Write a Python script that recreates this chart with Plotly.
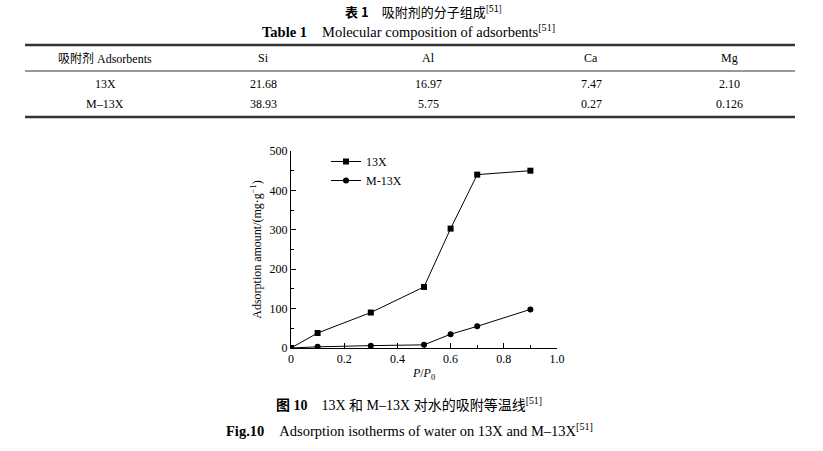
import plotly.graph_objects as go

# ---- data ----
p_p0 = [0, 0.1, 0.3, 0.5, 0.6, 0.7, 0.9]
ads_13x = [0, 38, 90, 155, 303, 440, 450]
ads_m13x = [0, 3, 6, 8, 35, 55, 98]

table_header = ["吸附剂 Adsorbents", "Si", "Al", "Ca", "Mg"]
table_rows = [
    ["13X", "21.68", "16.97", "7.47", "2.10"],
    ["M–13X", "38.93", "5.75", "0.27", "0.126"],
]

W, H = 823, 451
L, R, T, B = 291, 557, 151, 348  # plot area in pixels

def px(x):
    return (x - L) / (R - L)

def py(y):
    return (B - y) / (B - T)

SERIF = "Liberation Serif, Times New Roman, serif"
CJK = "Noto Sans CJK SC"

fig = go.Figure()
fig.add_trace(go.Scatter(
    x=p_p0, y=ads_13x, mode="lines+markers", name="13X",
    line=dict(color="black", width=1),
    marker=dict(symbol="square", size=6, color="black"),
))
fig.add_trace(go.Scatter(
    x=p_p0, y=ads_m13x, mode="lines+markers", name="M-13X",
    line=dict(color="black", width=1),
    marker=dict(symbol="circle", size=6, color="black"),
))

axis_common = dict(
    showline=True, linecolor="black", linewidth=1,
    ticks="inside", ticklen=5, tickcolor="black",
    showgrid=False, zeroline=False, mirror=False,
    tickfont=dict(family=SERIF, size=12, color="black"),
)
fig.update_xaxes(range=[0, 1.0],
                 tickvals=[0, 0.2, 0.4, 0.6, 0.8, 1.0],
                 ticktext=["0", "0.2", "0.4", "0.6", "0.8", "1.0"],
                 minor=dict(ticks="inside", ticklen=3, dtick=0.1, tickcolor="black"),
                 title=dict(text="<i>P</i>/<i>P</i><sub>0</sub>", font=dict(family=SERIF, size=12, color="black"), standoff=3),
                 **axis_common)
fig.update_yaxes(range=[0, 500], dtick=100,
                 minor=dict(ticks="inside", ticklen=3, dtick=50, tickcolor="black"),
                 title=dict(text="Adsorption amount/(mg·g<sup>−1</sup>)", font=dict(family=SERIF, size=12, color="black"), standoff=5),
                 **axis_common)

fig.update_layout(
    width=W, height=H,
    margin=dict(l=L, r=W - R, t=T, b=H - B, pad=0),
    paper_bgcolor="white", plot_bgcolor="white",
    showlegend=True,
    legend=dict(x=px(326), y=py(147), xanchor="left", yanchor="top",
                bgcolor="rgba(0,0,0,0)", font=dict(family=SERIF, size=12, color="black"),
                itemwidth=30, tracegroupgap=0),
)

annotations = []
shapes = []

def txt(x, y, text, size=12, family=SERIF, xanchor="center"):
    annotations.append(dict(
        x=px(x), y=py(y), xref="paper", yref="paper", text=text, showarrow=False,
        xanchor=xanchor, yanchor="middle", font=dict(family=family, size=size, color="black"),
    ))

def hline(y, x0, x1, width):
    shapes.append(dict(type="line", xref="paper", yref="paper",
                       x0=px(x0), x1=px(x1), y0=py(y), y1=py(y),
                       line=dict(color="#333333", width=width)))

# Titles
txt(423, 11, "<b>表 1</b>　吸附剂的分子组成<sup>[51]</sup>", size=13, family=f"{CJK}, {SERIF}")
txt(408, 31, "<b>Table 1</b>　Molecular composition of adsorbents<sup>[51]</sup>", size=14.5)

# Table lines
hline(45, 25, 795, 2.5)
hline(71, 25, 795, 1)
hline(117, 25, 795, 2.5)

col_x = [105, 263, 428, 591, 729]
for cx, h in zip(col_x, table_header):
    fam = f"{SERIF}, {CJK}"
    txt(cx, 58, h, size=12, family=fam)
for ry, row in zip([84, 104], table_rows):
    for cx, v in zip(col_x, row):
        txt(cx, ry, v, size=12)

# Captions
txt(409, 404, "<b>图 10</b>　13X 和 M–13X 对水的吸附等温线<sup>[51]</sup>", size=14, family=f"{SERIF}, {CJK}")
txt(409, 430, "<b>Fig.10</b>　Adsorption isotherms of water on 13X and M–13X<sup>[51]</sup>", size=14.5)

fig.update_layout(annotations=annotations, shapes=shapes)
fig.write_html("out.html")
